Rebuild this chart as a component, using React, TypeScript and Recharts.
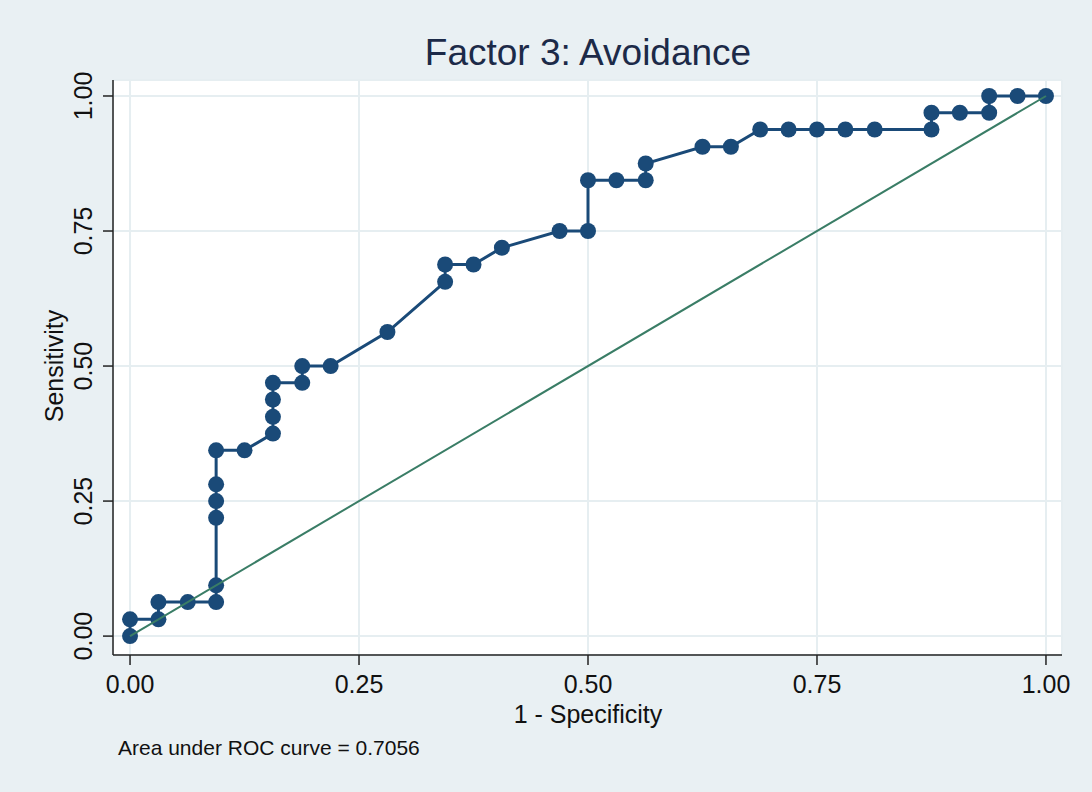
import { CartesianGrid, ComposedChart, Scatter, XAxis, YAxis } from "recharts";

// ROC curve points (1 - specificity, sensitivity), in plotting order
const fpr = [
  0, 0, 0.031, 0.031, 0.063, 0.094, 0.094, 0.094, 0.094, 0.094, 0.094, 0.125,
  0.156, 0.156, 0.156, 0.156, 0.188, 0.188, 0.219, 0.281, 0.344, 0.344, 0.375,
  0.406, 0.469, 0.5, 0.5, 0.531, 0.563, 0.563, 0.625, 0.656, 0.688, 0.719,
  0.75, 0.781, 0.813, 0.875, 0.875, 0.906, 0.938, 0.938, 0.969, 1,
];
const tpr = [
  0, 0.031, 0.031, 0.063, 0.063, 0.063, 0.094, 0.219, 0.25, 0.281, 0.344, 0.344,
  0.375, 0.406, 0.438, 0.469, 0.469, 0.5, 0.5, 0.563, 0.656, 0.688, 0.688,
  0.719, 0.75, 0.75, 0.844, 0.844, 0.844, 0.875, 0.906, 0.906, 0.938, 0.938,
  0.938, 0.938, 0.938, 0.938, 0.969, 0.969, 0.969, 1, 1, 1,
];
const diagX = [0, 1];
const diagY = [0, 1];
const ticks = [0, 0.25, 0.5, 0.75, 1];

const title = "Factor 3: Avoidance";
const xLabel = "1 - Specificity";
const yLabel = "Sensitivity";
const note = "Area under ROC curve = 0.7056";

const roc = fpr.map((x, i) => ({ x, y: tpr[i] }));
const diagonal = diagX.map((x, i) => ({ x, y: diagY[i] }));

const FONT = "'Liberation Sans', Arial, Helvetica, sans-serif";
const NAVY = "#1a4a78";

function YTick(props: any) {
  const { x, y, payload } = props;
  return (
    <text
      x={x - 9}
      y={y}
      transform={`rotate(-90, ${x - 9}, ${y})`}
      textAnchor="middle"
      fontSize={25}
      fontFamily={FONT}
      fill="#111"
    >
      {payload.value.toFixed(2)}
    </text>
  );
}

function XTick(props: any) {
  const { x, y, payload } = props;
  return (
    <text x={x} y={y + 26} textAnchor="middle" fontSize={25} fontFamily={FONT} fill="#111">
      {payload.value.toFixed(2)}
    </text>
  );
}

function Dot(props: any) {
  const { cx, cy } = props;
  return <circle cx={cx} cy={cy} r={8} fill={NAVY} />;
}

export default function App() {
  return (
    <div
      style={{
        position: "absolute",
        left: 0,
        top: 0,
        width: 1092,
        height: 792,
        background: "#e9f0f3",
        fontFamily: FONT,
      }}
    >
      <ComposedChart
        width={1092}
        height={792}
        margin={{ top: 80, right: 30, bottom: 107, left: 53 }}
      >
        <CartesianGrid fill="#ffffff" stroke="#e6eef1" strokeWidth={2} />
        <XAxis
          type="number"
          dataKey="x"
          domain={[-0.0186, 1.0175]}
          ticks={ticks}
          tick={<XTick />}
          tickSize={10}
          height={30}
          stroke="#222"
          strokeWidth={1.5}
          allowDataOverflow
        />
        <YAxis
          type="number"
          dataKey="y"
          domain={[-0.035, 1.0296]}
          ticks={ticks}
          tick={<YTick />}
          tickSize={10}
          width={60}
          stroke="#222"
          strokeWidth={1.5}
          allowDataOverflow
        />
        <Scatter
          data={roc}
          fill={NAVY}
          shape={<Dot />}
          line={{ stroke: NAVY, strokeWidth: 3 }}
          isAnimationActive={false}
        />
        <Scatter
          data={diagonal}
          fill="none"
          shape={() => <g />}
          line={{ stroke: "#3a7d66", strokeWidth: 2 }}
          isAnimationActive={false}
        />
        <text x={588} y={52} textAnchor="middle" dominantBaseline="central" fontSize={37} fill="#1c2a48" fontFamily={FONT}>
          {title}
        </text>
        <text x={588} y={714} textAnchor="middle" dominantBaseline="central" fontSize={25} fill="#111" fontFamily={FONT}>
          {xLabel}
        </text>
        <text
          x={54}
          y={366}
          transform="rotate(-90, 54, 366)"
          textAnchor="middle"
          dominantBaseline="central"
          fontSize={25}
          fill="#111"
          fontFamily={FONT}
        >
          {yLabel}
        </text>
        <text x={118} y={755} fontSize={21} fill="#111" fontFamily={FONT}>
          {note}
        </text>
      </ComposedChart>
    </div>
  );
}
